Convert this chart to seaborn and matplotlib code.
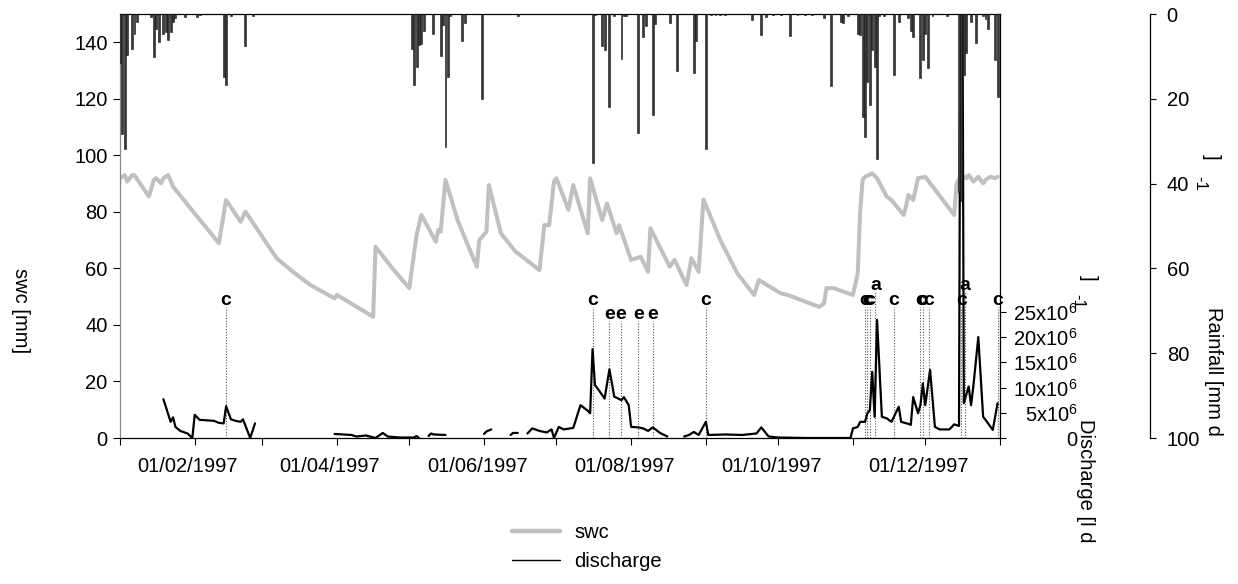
import numpy as np
import pandas as pd
import matplotlib
matplotlib.use("Agg")
import matplotlib.pyplot as plt
import matplotlib.dates as mdates
from matplotlib.lines import Line2D
import seaborn as sns

sns.set_style("ticks")
plt.rcParams['font.family'] = ['Liberation Sans', 'DejaVu Sans']
plt.rcParams['mathtext.fontset'] = 'custom'
plt.rcParams['mathtext.rm'] = 'Liberation Sans'
plt.rcParams['mathtext.it'] = 'Liberation Sans:italic'
plt.rcParams['mathtext.bf'] = 'Liberation Sans:bold'
plt.rcParams['text.color'] = 'black'
plt.rcParams['axes.labelcolor'] = 'black'
plt.rcParams['xtick.color'] = 'black'
plt.rcParams['ytick.color'] = 'black'

START = '1997-01-01'
END = '1998-01-01'

# ---- soil water content (day of year 1997, mm) ----
swc_day = [0, 2, 3, 5, 6, 12, 14, 15, 17, 18, 20, 22, 41, 44, 50, 52, 65, 72, 79, 89, 90,
           105, 106, 113, 120, 123, 125, 128, 131, 132, 133, 135, 140, 148, 149, 152, 153,
           158, 164, 174, 176, 178, 180, 181, 186, 188, 194, 195, 200, 202, 206, 207, 212,
           216, 219, 220, 228, 230, 235, 237, 240, 242, 249, 256, 263, 265, 274, 277, 290,
           292, 293, 296, 298, 304, 306, 307, 308, 309, 312, 314, 318, 320, 325, 326, 327,
           329, 331, 334, 346, 347, 349, 351, 352, 354, 356, 358, 359, 361, 363, 364]
swc_mm = [91.9, 93.0, 90.7, 93.0, 93.0, 85.4, 91.3, 91.9, 90.1, 91.9, 93.0, 88.9, 68.9, 84.2,
          76.5, 80.1, 63.6, 58.6, 54.1, 49.4, 50.6, 42.9, 67.7, 60.0, 53.0, 71.8, 78.9, 74.2,
          69.4, 73.6, 73.0, 91.3, 77.1, 60.6, 70.0, 73.0, 89.5, 72.4, 66.0, 59.4, 75.3, 75.3,
          90.7, 91.9, 80.7, 89.5, 72.4, 91.9, 77.1, 83.0, 72.4, 75.3, 63.0, 64.1, 58.8, 74.2,
          60.6, 63.0, 54.1, 63.6, 58.8, 84.4, 70.0, 58.3, 50.6, 55.9, 51.2, 50.6, 46.4, 47.6,
          53.0, 53.0, 52.4, 50.6, 58.3, 80.0, 91.3, 92.4, 93.6, 91.9, 85.4, 84.2, 78.9, 81.9,
          86.0, 84.2, 91.9, 92.4, 78.9, 90.1, 93.0, 91.9, 93.0, 90.7, 92.4, 90.1, 91.3, 92.4,
          91.9, 92.4]

# ---- discharge (day of year, 10^6 l/d); nan = no data ----
q_day = [18, 21, 22, 23, 25, 28, 30, 31, 33, 39, 41, 43, 44, 46, 48, 50, 51, 54, 56, 57,
         89, 96, 98, 102, 106, 109, 111, 116, 122, 123, 124, 125,
         128, 129, 130, 135, 136,
         151, 152, 154, 155,
         162, 163, 165, 166,
         169, 171, 174, 177, 179, 180, 182, 184, 188, 191, 194, 195, 196, 197, 199, 201, 203,
         205, 208, 209, 211, 212, 215, 217, 219, 221, 224, 227, 228,
         234, 236, 238, 240, 243, 244, 251, 258, 264, 266, 269, 273, 285, 303, 304, 306, 307,
         309, 310, 311, 312, 313, 314, 316, 318, 320, 321, 323, 324, 327, 328, 329, 331, 332,
         333, 334, 336, 338, 340, 344, 346, 348, 349, 350, 352, 353, 354, 356, 358, 359, 362,
         364]
q_e6 = [7.7, 3.2, 4.1, 2.2, 1.4, 0.9, 0.0, 4.6, 3.6, 3.4, 3.0, 2.9, 6.3, 3.7, 3.4, 3.2, 3.7,
        0.0, 2.9, np.nan,
        0.8, 0.6, 0.3, 0.5, 0.0, 1.0, 0.3, 0.1, 0.1, 0.4, 0.0, np.nan,
        0.4, 0.9, 0.7, 0.6, np.nan,
        0.8, 1.3, 1.7, np.nan,
        0.6, 1.0, 1.0, np.nan,
        0.9, 1.9, 1.4, 1.1, 1.7, 0.0, 2.2, 1.7, 2.0, 6.5, 5.4, 4.9, 17.6, 10.5, 9.2, 7.8, 13.6,
        8.2, 7.5, 8.1, 6.5, 2.2, 2.1, 1.9, 1.4, 2.1, 1.0, 0.3, np.nan,
        0.3, 0.6, 1.2, 0.6, 3.2, 0.6, 0.7, 0.6, 0.9, 2.1, 0.3, 0.1, 0.0, 0.0, 1.9, 2.2, 3.2,
        3.2, 4.9, 5.5, 13.1, 4.2, 23.4, 4.2, 3.9, 3.2, 4.2, 6.2, 3.2, 2.8, 2.6, 8.1, 4.9, 6.5,
        10.8, 6.5, 13.5, 2.2, 1.7, 1.7, 2.7, 2.4, 150.0, 6.9, 10.2, 6.5, 10.5, 20.0, 4.2, 3.6,
        1.6, 6.9]

# ---- rainfall (day of year, mm/d) ----
rain_day = [0, 1, 2, 3, 5, 6, 7, 13, 14, 15, 16, 18, 19, 20, 21, 22, 23, 27, 32, 33, 43, 44,
            46, 52, 55, 121, 122, 123, 124, 125, 126, 130, 133, 134, 135, 136, 137, 142, 143,
            150, 165, 196, 197, 200, 201, 203, 205, 208, 209, 210, 215, 217, 218, 221, 222,
            228, 231, 238, 239, 243, 245, 247, 249, 251, 262, 266, 268, 271, 274, 278, 281,
            284, 287, 292, 295, 299, 300, 302, 306, 307, 308, 309, 310, 311, 312, 313, 314,
            315, 317, 321, 323, 327, 328, 329, 332, 333, 334, 335, 337, 343, 348, 349, 350,
            351, 353, 355, 358, 359, 360, 363, 364]
rain_mm = [11.5, 28.3, 31.9, 9.7, 8.3, 4.6, 2.0, 0.8, 10.2, 3.5, 6.5, 4.6, 4.2, 6.2, 4.2, 1.8,
           1.0, 0.8, 0.8, 0.3, 14.9, 16.7, 0.4, 7.5, 0.4, 8.3, 16.7, 12.4, 7.3, 7.0, 4.0, 4.8,
           10.0, 2.6, 31.3, 14.8, 0.4, 6.3, 2.1, 20.0, 0.5, 35.2, 0.3, 7.5, 8.5, 21.9, 0.5,
           10.5, 0.5, 0.5, 28.1, 5.5, 2.8, 23.8, 2.4, 2.2, 13.4, 13.8, 6.3, 31.8, 0.3, 0.3,
           0.3, 0.3, 1.3, 5.0, 0.7, 0.3, 0.3, 5.1, 0.3, 0.3, 0.3, 1.0, 17.0, 2.0, 2.2, 0.4,
           4.6, 5.0, 24.4, 29.1, 16.0, 21.5, 8.5, 12.4, 34.3, 0.5, 0.4, 14.4, 2.0, 1.0, 4.0,
           5.5, 15.2, 10.9, 4.6, 12.8, 0.4, 0.5, 42.0, 44.0, 14.4, 9.3, 2.0, 6.9, 0.4, 1.1,
           3.6, 10.8, 19.5]

# ---- event labels ----
event_day = [44, 196, 203, 207.7, 215, 221, 243, 309, 310, 311, 313.3, 321, 332, 333, 335.5,
             349, 350.4, 364.1]
event_label = ['c', 'c', 'e', 'e', 'e', 'e', 'c', 'c', 'c', 'c', 'a', 'c', 'c', 'c', 'c',
               'c', 'a', 'c']

swc_ticks = [0, 20, 40, 60, 80, 100, 120, 140]
rain_ticks = [0, 20, 40, 60, 80, 100]
q_ticks_e6 = [0, 5, 10, 15, 20, 25]
q_tick_labels = ['0', '5x10$^6$', '10x10$^6$', '15x10$^6$', '20x10$^6$', '25x10$^6$']

# ------------------------------------------------------------------
t0 = pd.Timestamp(START)
def to_num(days):
    return mdates.date2num(t0 + pd.to_timedelta(np.asarray(days, dtype=float), unit='D'))

swc_df = pd.DataFrame({'x': to_num(swc_day), 'swc': swc_mm})
q_arr = np.asarray(q_e6, dtype=float)
q_df = pd.DataFrame({'x': to_num(q_day), 'q': q_arr * 1e6,
                     'seg': np.cumsum(np.isnan(q_arr))}).dropna()
rain_df = pd.DataFrame({'x': to_num(rain_day), 'rain': rain_mm})

W, H = 1238, 584
fig = plt.figure(figsize=(W / 100, H / 100), dpi=100)
L, R, T, B = 120, 1000, 14, 438
ax = fig.add_axes([L / W, 1 - B / H, (R - L) / W, (B - T) / H])
ax2 = ax.twinx()
ax3 = ax.twinx()

FS = 14.5
x0, x1 = mdates.date2num(pd.Timestamp(START)), mdates.date2num(pd.Timestamp(END))

# swc line
sns.lineplot(data=swc_df, x='x', y='swc', ax=ax, color='#c0c0c0', lw=2.9,
             estimator=None, legend=False)
ax.set_ylim(0, 150)
ax.set_yticks(swc_ticks)
ax.set_ylabel('')
ax.set_xlabel('')

# event markers
yb = {'c': 47.0, 'e': 42.1, 'a': 52.3}
for d, lab in zip(event_day, event_label):
    xd = to_num([d])[0]
    ax.vlines(xd, 0, yb[lab] - 0.8, colors='#555555', linestyles=(0, (1, 1.5)), lw=0.8)
    ax.text(xd, yb[lab], lab, ha='center', va='baseline', fontsize=14, fontweight='bold',
            color='black')

# discharge
sns.lineplot(data=q_df, x='x', y='q', units='seg', estimator=None, ax=ax2,
             color='black', lw=1.6, legend=False)
ax2.set_ylim(0, 84e6)
ax2.set_yticks([v * 1e6 for v in q_ticks_e6])
ax2.set_yticklabels(q_tick_labels)
ax2.set_ylabel('')
ax2.set_xlabel('')
for lbl in ax2.get_yticklabels():
    lbl.set_ha('right')
ax2.tick_params(axis='y', direction='out', length=4, width=0.8, pad=52, labelsize=FS,
                colors='black')

# rainfall bars
sns.barplot(data=rain_df, x='x', y='rain', ax=ax3, native_scale=True, orient='x',
            color='#3a3a3a', saturation=1, errorbar=None, width=0.8,
            edgecolor='#111111', linewidth=0.4)
ax3.set_ylim(100, 0)
ax3.set_yticks(rain_ticks)
ax3.set_ylabel('')
ax3.set_xlabel('')
ax3.spines['right'].set_position(('axes', (1150 - L) / (R - L)))
for s in ['top', 'left', 'bottom']:
    ax3.spines[s].set_visible(False)
for s in ['top', 'left', 'bottom']:
    ax2.spines[s].set_visible(False)
ax3.tick_params(axis='y', direction='out', length=4, width=0.8, pad=8, labelsize=FS,
                colors='black')
ax3.spines['right'].set_color('black')
ax3.spines['right'].set_linewidth(0.9)
ax2.spines['right'].set_color('black')
ax2.spines['right'].set_linewidth(0.9)

# x axis
ax.set_xlim(x0, x1)
month_starts = pd.date_range(START, END, freq='MS')
ax.set_xticks(mdates.date2num(month_starts), minor=True)
lab_dates = [d for d in month_starts if d.month % 2 == 0 and d.year == 1997]
ax.set_xticks(mdates.date2num(lab_dates) - 2.9)
ax.set_xticklabels([d.strftime('%d/%m/%Y') for d in lab_dates])
ax.tick_params(axis='x', which='major', length=0, pad=14, labelsize=FS, colors='black')
ax.tick_params(axis='x', which='minor', direction='out', length=5, width=0.8, color='black')
ax.tick_params(axis='y', direction='out', length=5, width=0.8, pad=4, labelsize=FS,
               colors='black')
for s in ['top', 'bottom']:
    ax.spines[s].set_color('black')
    ax.spines[s].set_linewidth(0.9)
ax.spines['left'].set_color('#888888')
ax.spines['left'].set_linewidth(0.9)
ax.spines['right'].set_visible(False)
ax2.set_xlim(x0, x1)
ax3.set_xlim(x0, x1)

# axis titles
def ftxt(x, y, s, size=FS):
    fig.text(x / W, 1 - y / H, s, rotation=270, ha='center', va='center', fontsize=size,
             color='black')

ftxt(20, 311, 'swc [mm]')
ftxt(1086, 481, 'Discharge [l d')
ftxt(1078, 301, '-1', 12)
ftxt(1088, 278, ']')
ftxt(1213, 371, 'Rainfall [mm d')
ftxt(1200, 183, '-1', 12)
ftxt(1211, 157, ']')

# legend
handles = [Line2D([], [], color='#c0c0c0', lw=3.2), Line2D([], [], color='black', lw=1.0)]
leg = fig.legend(handles, ['swc', 'discharge'], loc='upper left',
                 bbox_to_anchor=(512 / W, 1 - 523 / H), frameon=False, handlelength=2.4,
                 handletextpad=0.7, labelspacing=0.52, fontsize=FS, borderpad=0,
                 borderaxespad=0)
for t in leg.get_texts():
    t.set_color('black')

fig.savefig('out.png', dpi=100)
